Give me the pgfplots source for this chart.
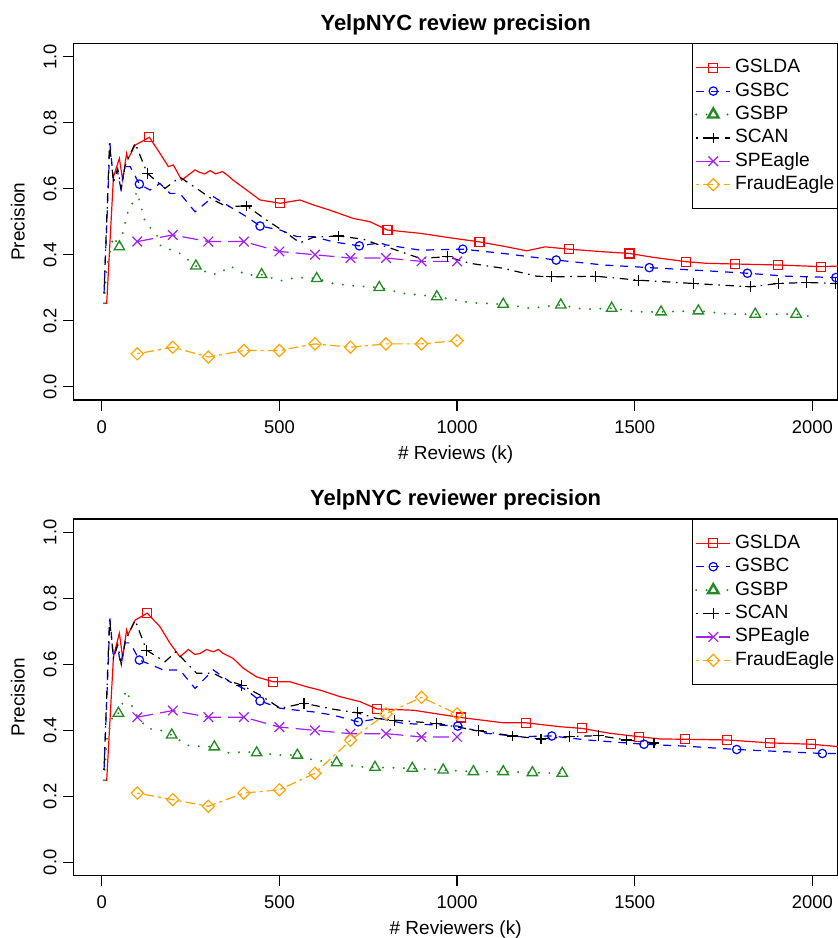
\documentclass[border=0pt]{standalone}
\usepackage{pgfplots}
\pgfplotsset{compat=1.18}
\usepackage{fontspec}
\setmainfont{Liberation Sans}
\definecolor{rred}{RGB}{255,0,0}
\definecolor{rblue}{RGB}{0,0,255}
\definecolor{rgreen}{RGB}{34,139,34}
\definecolor{rpurple}{RGB}{160,32,240}
\definecolor{rorange}{RGB}{255,165,0}
\pgfplotsset{
  sLDA/.style={rred, solid, line width=0.6pt, mark=square, mark size=2.25pt, mark options={solid, line width=0.6pt}},
  sBC/.style={rblue, dash pattern=on 4pt off 3.5pt, line width=0.6pt, mark=o, mark size=2.1pt, mark options={solid, line width=0.6pt}},
  sBP/.style={rgreen, line cap=round, dash pattern=on 0pt off 5.2pt, line width=1.1pt, mark=triangle, mark size=3pt, mark options={solid, line width=0.65pt}},
  sSCAN/.style={black, dash pattern=on 0.8pt off 2.8pt on 4.2pt off 2.8pt, line width=0.6pt, mark=+, mark size=2.7pt, mark options={solid, line width=0.6pt}},
  sSPE/.style={rpurple, dash pattern=on 8pt off 3.5pt, line width=0.6pt, mark=x, mark size=3.4pt, mark options={solid, line width=0.6pt}},
  sFE/.style={rorange, dash pattern=on 1.5pt off 2pt on 5pt off 2pt, line width=0.6pt, mark=square, mark size=2.15pt, mark options={solid, rotate=45, line width=0.6pt}},
  rax/.style={
    scale only axis, width=382.35pt, height=178.35pt,
    xmin=-80, xmax=2072, ymin=-0.04, ymax=1.0406,
    xtick={0,500,1000,1500,2000}, xticklabels={0,500,1000,1500,2000},
    ytick={0,0.2,0.4,0.6,0.8,1}, yticklabels={0.0,0.2,0.4,0.6,0.8,1.0},
    tick pos=left, tick align=outside, major tick length=5.25pt,
    axis line style={line width=0.6pt},
    every tick/.style={black, line width=0.6pt},
    xticklabel style={font=\fontsize{9.2}{11}\selectfont, inner sep=0pt, anchor=north, yshift=-4.75pt},
    yticklabel style={font=\fontsize{9.2}{11}\selectfont, inner sep=0pt, xshift=-2.95pt, rotate=90, anchor=south},
    every axis y label/.style={at={(axis description cs:-0.0628,0.5)}, rotate=90, anchor=south, inner sep=0pt, font=\fontsize{9.5}{11}\selectfont},
    every axis x label/.style={at={(axis description cs:0.5,-0.1665)}, anchor=base, inner sep=0pt, font=\fontsize{9.5}{11}\selectfont},
    every axis title/.style={at={(axis description cs:0.5,1)}, anchor=base, yshift=6.5pt, inner sep=0pt, font=\bfseries\fontsize{11}{13}\selectfont},
    ylabel={Precision},
    legend style={at={(rel axis cs:0.8087,1)}, anchor=north west, draw=black, fill=white,
      font=\fontsize{9.6}{11}\selectfont, inner xsep=1.5pt, inner ysep=7.5pt, row sep=2.7pt,
      nodes={inner sep=0pt, text height=7pt, text depth=2pt},
      /tikz/every odd column/.append style={column sep=1.8pt}},
    legend cell align=left,
  },
}
\begin{document}
\begin{tikzpicture}
%%%%%%%%%%%%%%%% TOP %%%%%%%%%%%%%%%%
\begin{axis}[rax, at={(0,0)}, anchor=south west,
  title={YelpNYC review precision}, xlabel={\# Reviews (k)}]
\addlegendimage{sLDA}\addlegendentry{GSLDA}
\addlegendimage{sBC}\addlegendentry{GSBC}
\addlegendimage{sBP, mark options={solid, line width=1.2pt}}\addlegendentry{GSBP}
\addlegendimage{sSCAN}\addlegendentry{SCAN}
\addlegendimage{sSPE}\addlegendentry{SPEagle}
\addlegendimage{sFE}\addlegendentry{FraudEagle}
% GSLDA
\addplot[sLDA, no marks, forget plot] coordinates {(9.6,0.253) (14,0.253) (33,0.636) (49.6,0.692) (59,0.626) (70,0.707) (74,0.69) (94,0.732) (134,0.756) (164,0.707) (187.5,0.667) (201.6,0.672) (225,0.626) (262.6,0.657) (275,0.65) (290,0.645) (305,0.655) (320,0.645) (340,0.652) (355,0.64) (370,0.626) (408,0.596) (445.5,0.566) (502,0.556) (558,0.566) (595.6,0.551) (642.5,0.535) (708,0.51) (755,0.5) (804,0.475) (896,0.465) (989.5,0.45) (1063,0.439) (1130,0.426) (1196,0.412) (1248,0.424) (1315,0.417) (1412,0.409) (1485,0.404) (1553,0.392) (1645,0.379) (1703,0.374) (1783,0.372) (1904,0.369) (2024,0.364) (2080,0.366)};
\addplot[sLDA, only marks, forget plot] coordinates {(134,0.756) (502,0.556) (804,0.475) (1063,0.439) (1315,0.417) (1485,0.404) (1645,0.379) (1783,0.372) (1904,0.369) (2024,0.364)};
% GSBC
\addplot[sBC, no marks, forget plot] coordinates {(6.5,0.283) (23,0.738) (33,0.626) (44,0.657) (53.5,0.601) (65.6,0.667) (80,0.667) (106,0.614) (136,0.596) (164,0.616) (192,0.586) (220,0.586) (262.6,0.53) (314,0.576) (352,0.551) (408,0.515) (445.5,0.487) (502,0.475) (549,0.455) (595.6,0.455) (652,0.439) (725,0.427) (783,0.436) (800,0.43) (896,0.414) (1016,0.417) (1130,0.404) (1279,0.384) (1412,0.369) (1541,0.361) (1693,0.352) (1817,0.344) (1928,0.335) (2066,0.331) (2080,0.33)};
\addplot[sBC, only marks, forget plot] coordinates {(106,0.614) (445.5,0.487) (725,0.427) (1016,0.417) (1279,0.384) (1541,0.361) (1817,0.344) (2066,0.331)};
% GSBP
\addplot[sBP, no marks, forget plot] coordinates {(6.5,0.253) (14,0.364) (33,0.455) (49.6,0.424) (61,0.475) (74.8,0.535) (89,0.561) (98.5,0.591) (108,0.558) (122,0.5) (155,0.46) (164,0.429) (192,0.416) (220,0.404) (265,0.366) (300,0.343) (328,0.341) (361,0.366) (408,0.338) (450,0.34) (502,0.321) (549,0.331) (605,0.328) (652,0.313) (708,0.306) (781,0.301) (849,0.283) (943,0.273) (1037,0.255) (1130,0.25) (1205,0.238) (1292,0.248) (1355,0.235) (1435,0.238) (1506,0.227) (1574,0.227) (1679,0.23) (1768,0.22) (1839,0.22) (1954,0.22) (2001,0.212)};
\addplot[sBP, only marks, forget plot] coordinates {(49.6,0.424) (265,0.366) (450,0.34) (605,0.328) (781,0.301) (943,0.273) (1130,0.25) (1292,0.248) (1435,0.238) (1574,0.227) (1679,0.23) (1839,0.22) (1954,0.22)};
% SCAN
\addplot[sSCAN, no marks, forget plot] coordinates {(6.5,0.283) (22,0.738) (33,0.62) (45,0.66) (55,0.6) (66,0.67) (94,0.738) (128,0.647) (178,0.601) (220,0.635) (267,0.601) (314,0.566) (352,0.546) (408,0.548) (464,0.505) (520.7,0.465) (558,0.436) (595.6,0.453) (666,0.457) (736,0.447) (783,0.429) (797,0.426) (896,0.389) (973,0.394) (1037,0.374) (1130,0.359) (1224,0.335) (1266.5,0.333) (1390,0.335) (1510,0.323) (1665,0.313) (1825,0.303) (1904,0.313) (1984,0.316) (2066,0.313) (2080,0.313)};
\addplot[sSCAN, only marks, forget plot] coordinates {(128,0.647) (408,0.548) (666,0.457) (973,0.394) (1266.5,0.333) (1390,0.335) (1510,0.323) (1665,0.313) (1825,0.303) (1904,0.313) (1984,0.316) (2066,0.313)};
% SPEagle
\addplot[sSPE, forget plot] coordinates {(100,0.44) (200,0.46) (300,0.44) (400,0.44) (500,0.41) (600,0.40) (700,0.39) (800,0.39) (900,0.38) (1000,0.38)};
% FraudEagle
\addplot[sFE, forget plot] coordinates {(100,0.10) (200,0.12) (300,0.09) (400,0.11) (500,0.11) (600,0.13) (700,0.12) (800,0.13) (900,0.13) (1000,0.14)};
\end{axis}
%%%%%%%%%%%%%%%% BOTTOM %%%%%%%%%%%%%%%%
\begin{axis}[rax, at={(0,-237.8pt)}, anchor=south west,
  title={YelpNYC reviewer precision}, xlabel={\# Reviewers (k)}]
\addlegendimage{sLDA}\addlegendentry{GSLDA}
\addlegendimage{sBC}\addlegendentry{GSBC}
\addlegendimage{sBP, mark options={solid, line width=1.2pt}}\addlegendentry{GSBP}
\addlegendimage{sSCAN}\addlegendentry{SCAN}
\addlegendimage{sSPE}\addlegendentry{SPEagle}
\addlegendimage{sFE}\addlegendentry{FraudEagle}
% GSLDA
\addplot[sLDA, no marks, forget plot] coordinates {(9.6,0.249) (14,0.249) (33,0.623) (49.6,0.694) (59,0.62) (70,0.704) (74,0.69) (94,0.734) (128,0.755) (164,0.714) (192,0.664) (220,0.623) (244,0.645) (262,0.63) (277,0.633) (295,0.645) (314,0.638) (328,0.645) (342,0.633) (370,0.618) (398.6,0.588) (436,0.562) (483,0.547) (530,0.547) (577,0.532) (614,0.522) (671,0.502) (727,0.487) (774,0.465) (877,0.461) (1010,0.439) (1130,0.423) (1193,0.423) (1290,0.411) (1351,0.406) (1431,0.391) (1511,0.381) (1571,0.374) (1642,0.373) (1759,0.371) (1881,0.362) (1997,0.358) (2080,0.35)};
\addplot[sLDA, only marks, forget plot] coordinates {(128,0.755) (483,0.547) (774,0.465) (1010,0.439) (1193,0.423) (1351,0.406) (1511,0.381) (1642,0.373) (1759,0.371) (1881,0.362) (1997,0.358)};
% GSBC
\addplot[sBC, no marks, forget plot] coordinates {(6.5,0.28) (23,0.739) (33,0.62) (44,0.655) (53.5,0.6) (65.6,0.665) (80,0.665) (106,0.613) (136,0.6) (173,0.583) (220,0.583) (262.6,0.527) (314,0.583) (361,0.547) (408,0.522) (445.5,0.489) (502,0.467) (549,0.461) (595.6,0.456) (652,0.446) (722,0.426) (783,0.436) (849,0.421) (1002,0.413) (1083,0.391) (1177,0.381) (1266.5,0.383) (1365,0.371) (1526,0.358) (1646,0.352) (1787,0.342) (1928,0.335) (2028,0.33) (2080,0.33)};
\addplot[sBC, only marks, forget plot] coordinates {(106,0.613) (445.5,0.489) (722,0.426) (1002,0.413) (1266.5,0.383) (1526,0.358) (1787,0.342) (2028,0.33)};
% GSBP
\addplot[sBP, no marks, forget plot] coordinates {(6.5,0.249) (14,0.371) (33,0.452) (47,0.452) (56,0.472) (65,0.51) (70,0.522) (80,0.492) (89,0.461) (127,0.406) (164,0.401) (197,0.386) (239,0.355) (267,0.352) (317,0.35) (352,0.332) (408,0.335) (436,0.332) (502,0.325) (550.5,0.325) (595.6,0.31) (661,0.302) (717,0.29) (769,0.288) (874,0.285) (961,0.28) (1046,0.275) (1130,0.275) (1212,0.272) (1296,0.27)};
\addplot[sBP, only marks, forget plot] coordinates {(47,0.452) (197,0.386) (317,0.35) (436,0.332) (550.5,0.325) (661,0.302) (769,0.288) (874,0.285) (961,0.28) (1046,0.275) (1130,0.275) (1212,0.272) (1296,0.27)};
% SCAN
\addplot[sSCAN, no marks, forget plot] coordinates {(6.5,0.28) (22,0.739) (33,0.62) (45,0.66) (55,0.6) (66,0.67) (94,0.734) (126,0.643) (178,0.608) (209,0.638) (267,0.573) (314,0.573) (352,0.552) (394,0.537) (445.5,0.507) (502,0.467) (569,0.482) (652,0.464) (719.5,0.453) (774,0.436) (823,0.431) (943,0.421) (1060,0.399) (1157,0.383) (1236,0.374) (1316,0.381) (1398,0.384) (1476,0.371) (1554,0.362) (1571,0.362)};
\addplot[sSCAN, only marks, forget plot] coordinates {(126,0.643) (394,0.537) (569,0.482) (719.5,0.453) (823,0.431) (943,0.421) (1060,0.399) (1157,0.383) (1236,0.374) (1316,0.381) (1398,0.384) (1476,0.371) (1554,0.362)};
% SPEagle
\addplot[sSPE, forget plot] coordinates {(100,0.44) (200,0.46) (300,0.44) (400,0.44) (500,0.41) (600,0.40) (700,0.39) (800,0.39) (900,0.38) (1000,0.38)};
% FraudEagle
\addplot[sFE, forget plot] coordinates {(100,0.21) (200,0.19) (300,0.17) (400,0.21) (500,0.22) (600,0.27) (700,0.37) (800,0.45) (900,0.50) (1000,0.45)};
\end{axis}
\pgfresetboundingbox
\useasboundingbox (-36.65pt,-269pt) rectangle (381.85pt,200pt);
\end{tikzpicture}
\end{document}
